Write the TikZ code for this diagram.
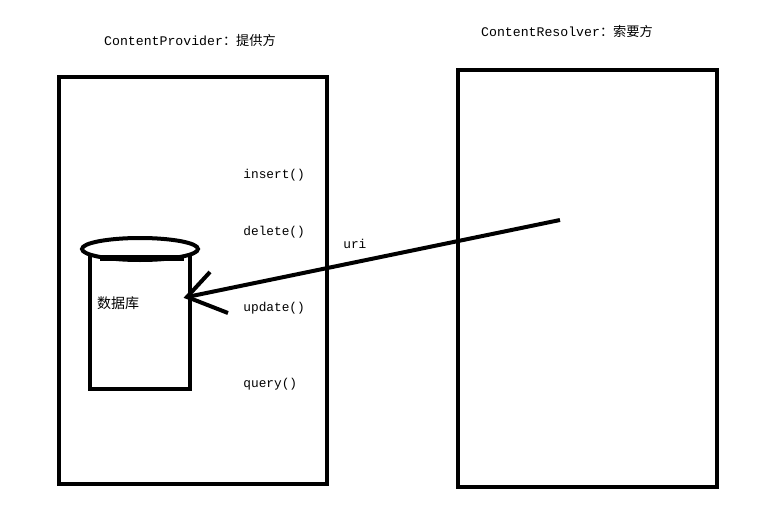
\documentclass[tikz,border=0pt]{standalone}
\usepackage{fontspec}
\setmonofont{Liberation Mono}
\newfontfamily\cjk{Noto Sans CJK SC}
\usetikzlibrary{positioning}

\tikzset{
  box/.style={line width=2pt},
  method/.style={anchor=west, inner sep=0pt, font=\fontsize{6.4}{8}\selectfont\ttfamily},
  title/.style={inner sep=0pt, font=\fontsize{6.6}{8}\selectfont\ttfamily}
}

\begin{document}
\begin{tikzpicture}[x=0.5pt, y=-0.5pt]
    \useasboundingbox (0,0) rectangle (760,524);
    % two sides
    \draw[box] (59,77) rectangle (327,484);
    \draw[box] (458,70) rectangle (717,487);
    \node[title] (prov) at (190,40) {ContentProvider{\cjk ：提供方}};
    \node[title] (resol) at (567,31) {ContentResolver{\cjk ：索要方}};

    % database
    \draw[box] (90,252) -- (90,389) -- (190,389) -- (190,252);
    \draw[box, fill=white] (140,249) ellipse (58 and 11);
    \draw[line width=3pt] (100,258) -- (184,258);
    \node[inner sep=0pt, font=\fontsize{7}{8}\selectfont\cjk] (db) at (118,303) {数据库};

    % methods
    \node[method] (ins) at (243,175) {insert()};
    \node[method] (del) at (243,232) {delete()};
    \node[method] (upd) at (243,308) {update()};
    \node[method] (qry) at (243,384) {query()};

    % request
    \coordinate (src) at (560,220);
    \coordinate (tip) at (187,297);
    \draw[box] (src) -- node[method, pos=0.55, above=6pt] (uri) {uri} (tip);
    \draw[box] (210,272) -- (tip) -- (228,313);
\end{tikzpicture}
\end{document}
